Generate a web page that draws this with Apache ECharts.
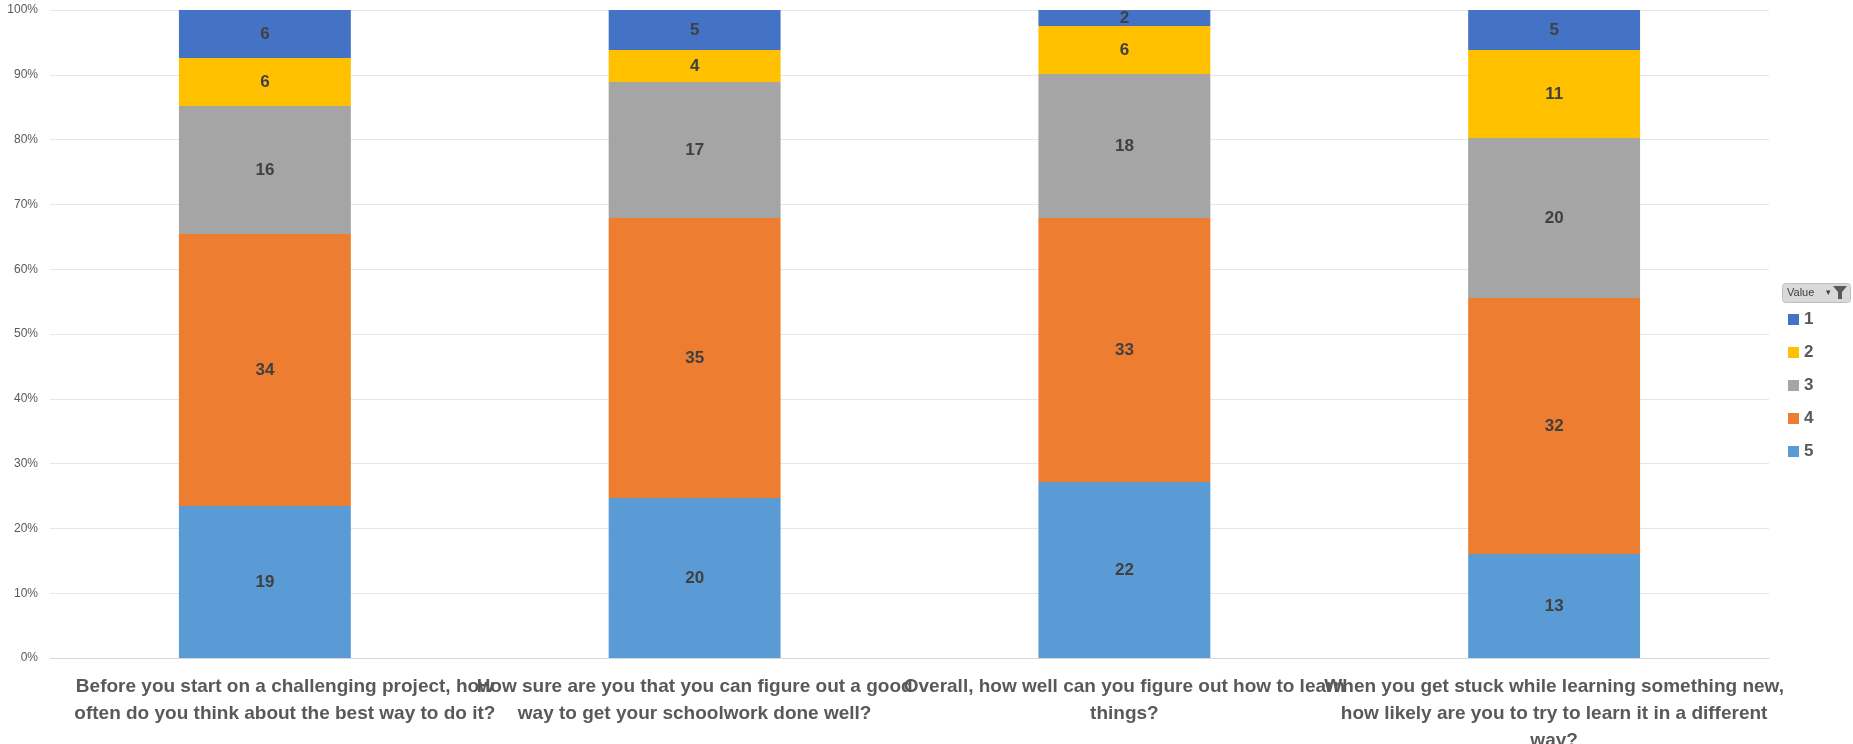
<!DOCTYPE html>
<html><head><meta charset="utf-8">
<script src="https://cdn.jsdelivr.net/npm/echarts@6/dist/echarts.min.js"></script>
<style>html,body{margin:0;padding:0;background:#fff}#c{width:1853px;height:744px}</style>
</head><body><div id="c"></div>
<script>
const categories = [
  "Before you start on a challenging project, how\noften do you think about the best way to do it?",
  "How sure are you that you can figure out a good\nway to get your schoolwork done well?",
  "Overall, how well can you figure out how to learn\nthings?",
  "When you get stuck while learning something new,\nhow likely are you to try to learn it in a different\nway?"
];
const seriesNames = ["5", "4", "3", "2", "1"];
const v5 = [19, 20, 22, 13];
const v4 = [34, 35, 33, 32];
const v3 = [16, 17, 18, 20];
const v2 = [6, 4, 6, 11];
const v1 = [6, 5, 2, 5];
const yTicks = [0, 10, 20, 30, 40, 50, 60, 70, 80, 90, 100];
const colors = {"1": "#4472C4", "2": "#FFC000", "3": "#A5A5A5", "4": "#ED7D31", "5": "#5B9BD5"};

const counts = {"5": v5, "4": v4, "3": v3, "2": v2, "1": v1};
const totals = categories.map((_, i) => v5[i] + v4[i] + v3[i] + v2[i] + v1[i]);

const series = seriesNames.map(name => ({
  name: name,
  type: 'bar',
  stack: 'total',
  barWidth: '40%',
  itemStyle: {color: colors[name]},
  data: counts[name].map((c, i) => c / totals[i] * 100),
  label: {
    show: true,
    position: 'inside',
    formatter: p => String(counts[name][p.dataIndex]),
    color: '#404040',
    fontSize: 17,
    fontWeight: 'bold',
    fontFamily: 'Liberation Sans, Arial, sans-serif'
  }
}));

const labelFont = {
  color: '#595959',
  fontSize: 19,
  lineHeight: 27,
  fontWeight: 'bold',
  fontFamily: 'Liberation Sans, Arial, sans-serif'
};

const chart = echarts.init(document.getElementById('c'));
chart.setOption({
  animation: false,
  grid: {left: 50, right: 84, top: 10, bottom: 86, outerBoundsMode: 'none', containLabel: false},
  xAxis: {
    type: 'category',
    data: categories,
    axisLine: {lineStyle: {color: '#D9D9D9'}},
    axisTick: {show: false},
    axisLabel: Object.assign({
      interval: 0,
      margin: 15,
      formatter: (val, idx) => idx === 0
        ? val.split('\n').map(l => '{s|' + l + '}').join('\n')
        : val,
      rich: {s: Object.assign({padding: [0, 0, 0, 40]}, labelFont)}
    }, labelFont)
  },
  yAxis: {
    type: 'value',
    min: 0, max: 100, interval: 10,
    axisLine: {show: false},
    axisTick: {show: false},
    splitLine: {lineStyle: {color: '#E6E6E6'}},
    axisLabel: {
      color: '#595959', fontSize: 12, margin: 12,
      fontFamily: 'Liberation Sans, Arial, sans-serif',
      formatter: v => yTicks.includes(v) ? v + '%' : ''
    }
  },
  legend: {
    orient: 'vertical',
    left: 1783, top: 306,
    data: ["1", "2", "3", "4", "5"],
    itemWidth: 11, itemHeight: 11, itemGap: 16,
    icon: 'rect',
    textStyle: {color: '#595959', fontSize: 17, fontWeight: 'bold', fontFamily: 'Liberation Sans, Arial, sans-serif'}
  },
  graphic: [
    {type: 'rect', left: 1782, top: 283, shape: {width: 68, height: 19, r: 3}, style: {fill: '#D9D9D9', stroke: '#BFBFBF'}},
    {type: 'text', left: 1787, top: 287, style: {text: 'Value', fill: '#404040', fontSize: 11, fontFamily: 'Liberation Sans, Arial, sans-serif'}},
    {type: 'text', left: 1826, top: 288, style: {text: '▾', fill: '#404040', fontSize: 9}},
    {type: 'polygon', shape: {points: [[1833, 286], [1847, 286], [1842, 292], [1842, 299], [1838, 299], [1838, 292]]}, style: {fill: '#595959'}}
  ],
  series: series
});
</script></body></html>
